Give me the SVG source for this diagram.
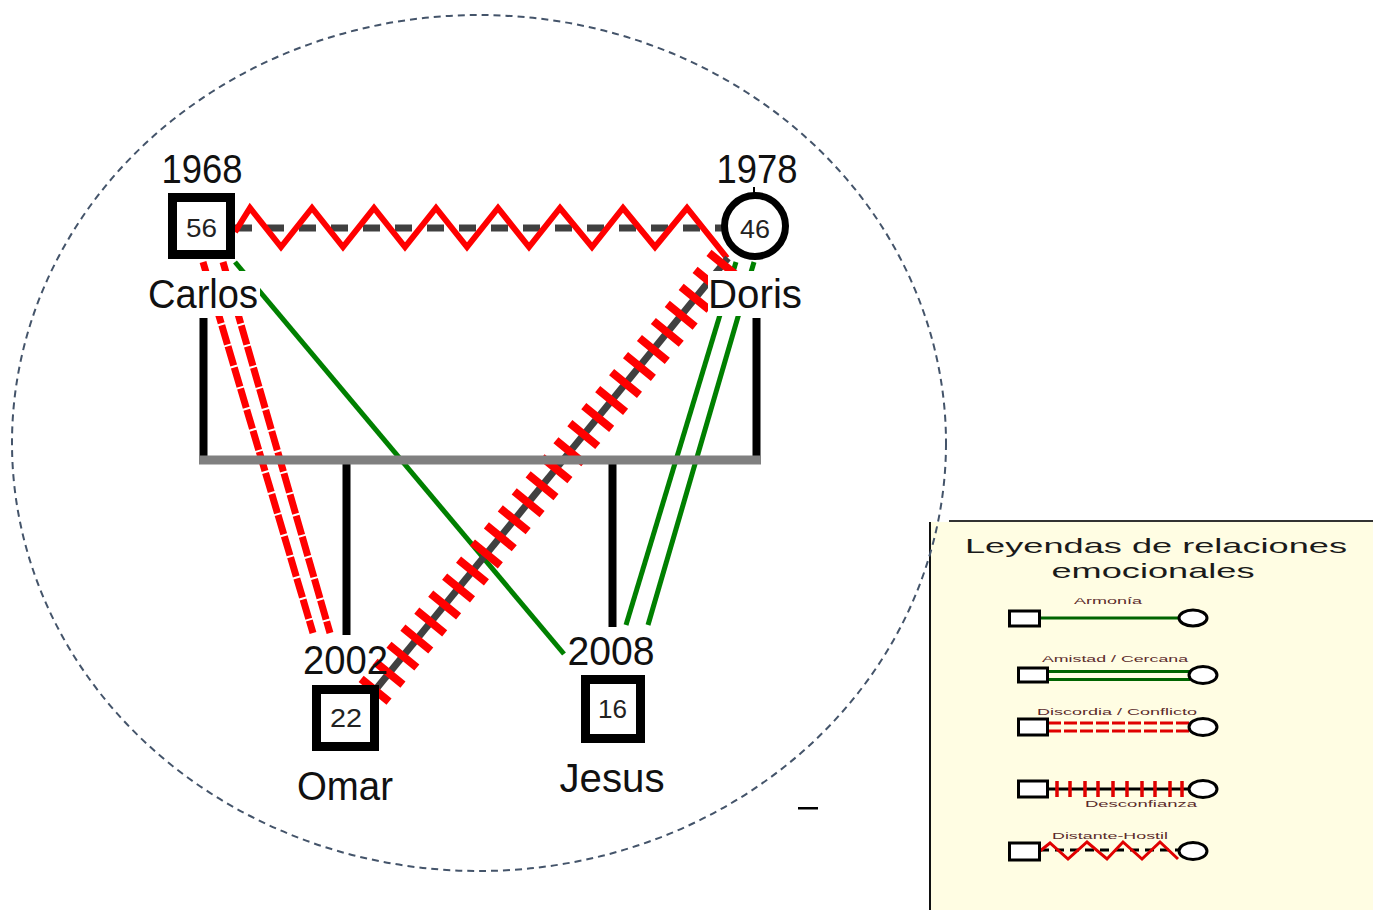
<svg xmlns="http://www.w3.org/2000/svg" width="1373" height="910" viewBox="0 0 1373 910">
<style>
.lbl{font-family:"Liberation Sans",Arial,sans-serif;fill:#111;text-anchor:middle}
.big{font-size:40px}
.num{font-size:26px;fill:#222}
.box{fill:#fff;stroke:#000;stroke-width:9}
.fam{stroke:#000;stroke-width:8;fill:none}
.green{stroke:#008000;stroke-width:5;fill:none}
.reddash{stroke:#ff0000;stroke-width:7;stroke-dasharray:20 2;fill:none}
.leg{font-family:"Liberation Sans",Arial,sans-serif;font-size:9px;fill:#5b2b2b;text-anchor:middle}
.ltitle{font-family:"Liberation Sans",Arial,sans-serif;font-size:21px;fill:#1a1a1a;text-anchor:middle}
.lbox{fill:#fff;stroke:#000;stroke-width:3}
</style>
<rect width="1373" height="910" fill="#fff"/>

<!-- Legend -->
<g id="legend">
  <rect x="931" y="522" width="442" height="388" fill="#fffde3"/>
  <line x1="949" y1="521" x2="1373" y2="521" stroke="#333" stroke-width="2"/>
  <line x1="930" y1="522" x2="930" y2="910" stroke="#111" stroke-width="2"/>
  <text class="ltitle" x="1156" y="553" textLength="382" lengthAdjust="spacingAndGlyphs">Leyendas de relaciones</text>
  <text class="ltitle" x="1153" y="578" textLength="203" lengthAdjust="spacingAndGlyphs">emocionales</text>

  <g id="leg-armonia">
    <text class="leg" x="1108" y="604" textLength="68" lengthAdjust="spacingAndGlyphs">Armonía</text>
    <line x1="1040" y1="618" x2="1180" y2="618" stroke="#006400" stroke-width="3"/>
    <rect class="lbox" x="1009.5" y="611" width="30" height="15"/>
    <ellipse class="lbox" cx="1193" cy="618" rx="14" ry="8"/>
  </g>
  <g id="leg-amistad">
    <text class="leg" x="1115" y="662" textLength="146" lengthAdjust="spacingAndGlyphs">Amistad / Cercana</text>
    <line x1="1048" y1="671.5" x2="1190" y2="671.5" stroke="#006400" stroke-width="3"/>
    <line x1="1048" y1="679.5" x2="1190" y2="679.5" stroke="#006400" stroke-width="3"/>
    <rect class="lbox" x="1018.5" y="668" width="29" height="14"/>
    <ellipse class="lbox" cx="1203" cy="675" rx="14" ry="8.5"/>
  </g>
  <g id="leg-discordia">
    <text class="leg" x="1117" y="715" textLength="160" lengthAdjust="spacingAndGlyphs">Discordia / Conflicto</text>
    <line x1="1048" y1="723" x2="1190" y2="723" stroke="#e00000" stroke-width="3" stroke-dasharray="13 3"/>
    <line x1="1048" y1="731" x2="1190" y2="731" stroke="#e00000" stroke-width="3" stroke-dasharray="13 3"/>
    <rect class="lbox" x="1018.5" y="719" width="29" height="16"/>
    <ellipse class="lbox" cx="1203" cy="727" rx="14" ry="8.5"/>
  </g>
  <g id="leg-desconfianza">
    <line x1="1048" y1="789" x2="1190" y2="789" stroke="#000" stroke-width="3"/>
    <path d="M1057,781V797M1070,781V797M1085,781V797M1098,781V797M1113,781V797M1127,781V797M1142,781V797M1155,781V797M1170,781V797M1182,781V797" stroke="#e00000" stroke-width="3.5" fill="none"/>
    <rect class="lbox" x="1018.5" y="781" width="29" height="16"/>
    <ellipse class="lbox" cx="1203" cy="789" rx="14" ry="8.5"/>
    <text class="leg" x="1141" y="807" textLength="112" lengthAdjust="spacingAndGlyphs">Desconfianza</text>
  </g>
  <g id="leg-distante">
    <text class="leg" x="1110" y="839" textLength="116" lengthAdjust="spacingAndGlyphs">Distante-Hostil</text>
    <line x1="1040" y1="850" x2="1180" y2="850" stroke="#000" stroke-width="3" stroke-dasharray="9 6"/>
    <polyline points="1040,851 1050,843 1068,859 1087,842 1107,859 1123,842 1142,859 1160,842 1178,859" stroke="#e00000" stroke-width="3" fill="none"/>
    <rect class="lbox" x="1009.5" y="843" width="30" height="17"/>
    <ellipse class="lbox" cx="1193" cy="851" rx="14" ry="8.5"/>
  </g>
</g>

<!-- Household boundary -->
<ellipse id="boundary" cx="479" cy="443" rx="467" ry="428" fill="none" stroke="#44546a" stroke-width="2" stroke-dasharray="7 5"/>

<!-- Connectors -->
<g id="connectors">
  <!-- Carlos - Doris: distante/hostil -->
  <line x1="235" y1="228" x2="722" y2="228" stroke="#404040" stroke-width="7" stroke-dasharray="17 15"/>
  <polyline points="235,232 250,208 281,247 312,208 343,247 374,208 405,247 436,208 467,247 498,208 529,247 560,208 592,247 623,208 655,247 687,208 727,258" stroke="#ff0000" stroke-width="6" fill="none" stroke-linejoin="miter"/>
  <!-- Carlos - Omar: discordia/conflicto -->
  <line class="reddash" x1="203" y1="262" x2="313" y2="633"/>
  <line class="reddash" x1="223" y1="262" x2="330" y2="633"/>
  <!-- Carlos - Jesus: armonia -->
  <line class="green" x1="235" y1="262" x2="564" y2="654"/>
  <!-- Doris - Jesus: amistad/cercana -->
  <line class="green" x1="736" y1="262" x2="626" y2="625"/>
  <line class="green" x1="754" y1="262" x2="648" y2="625"/>
  <!-- Doris - Omar: desconfianza -->
  <line x1="728" y1="258" x2="372" y2="694" stroke="#404040" stroke-width="7"/>
  <line x1="728" y1="258" x2="372" y2="694" stroke="#ff0000" stroke-width="36" stroke-dasharray="8 14" stroke-dashoffset="-4"/>
  <!-- family lines -->
  <line class="fam" x1="203.5" y1="318" x2="203.5" y2="460"/>
  <line class="fam" x1="756.5" y1="318" x2="756.5" y2="460"/>
  <line class="fam" x1="346.5" y1="462" x2="346.5" y2="635"/>
  <line class="fam" x1="612.5" y1="462" x2="612.5" y2="627"/>
  <line x1="199" y1="460" x2="761" y2="460" stroke="#808080" stroke-width="9"/>
</g>

<!-- Nodes -->
<g id="carlos">
  <text class="lbl big" x="202" y="183" textLength="81" lengthAdjust="spacingAndGlyphs">1968</text>
  <rect class="box" x="172.5" y="197.5" width="58" height="57"/>
  <text class="lbl num" x="201.5" y="237" textLength="31" lengthAdjust="spacingAndGlyphs">56</text>
  <rect x="145" y="271" width="115" height="45" fill="#fff"/>
  <text class="lbl big" x="203" y="308" textLength="110" lengthAdjust="spacingAndGlyphs">Carlos</text>
</g>
<g id="doris">
  <text class="lbl big" x="757" y="183" textLength="81" lengthAdjust="spacingAndGlyphs">1978</text>
  <line x1="754" y1="187" x2="754" y2="194" stroke="#000" stroke-width="2"/>
  <circle cx="755" cy="226" r="30.5" fill="#fff" stroke="#000" stroke-width="7"/>
  <text class="lbl num" x="755" y="238" textLength="30" lengthAdjust="spacingAndGlyphs">46</text>
  <rect x="708" y="271" width="97" height="45" fill="#fff"/>
  <text class="lbl big" x="755" y="308" textLength="94" lengthAdjust="spacingAndGlyphs">Doris</text>
</g>
<g id="omar">
  <text class="lbl big" x="345.5" y="674" textLength="85" lengthAdjust="spacingAndGlyphs">2002</text>
  <rect class="box" x="316.5" y="689.5" width="58" height="57"/>
  <text class="lbl num" x="346" y="727" textLength="32" lengthAdjust="spacingAndGlyphs">22</text>
  <text class="lbl big" x="345" y="800" textLength="96" lengthAdjust="spacingAndGlyphs">Omar</text>
</g>
<g id="jesus">
  <text class="lbl big" x="611" y="665" textLength="87" lengthAdjust="spacingAndGlyphs">2008</text>
  <rect class="box" x="585.5" y="679.5" width="55" height="59"/>
  <text class="lbl num" x="612.5" y="718" textLength="29" lengthAdjust="spacingAndGlyphs">16</text>
  <text class="lbl big" x="612" y="792" textLength="105" lengthAdjust="spacingAndGlyphs">Jesus</text>
</g>

<rect x="798" y="807" width="20" height="2.5" fill="#000"/>
</svg>
